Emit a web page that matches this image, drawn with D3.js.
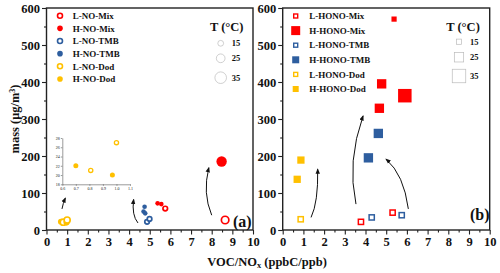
<!DOCTYPE html>
<html>
<head>
<meta charset="utf-8">
<script src="https://d3js.org/d3.v7.min.js"></script>
<style>
  body { margin: 0; background: #fff; }
  svg text { font-family: "Liberation Serif", "Times New Roman", serif; font-weight: bold; fill: #111; }
</style>
</head>
<body>
<svg id="chart" width="500" height="273"></svg>
<script>
// ---- data (VOC/NOx ratio, mass, temperature) ----
var noGroups = ["L-NO-Mix", "H-NO-Mix", "L-NO-TMB", "H-NO-TMB", "L-NO-Dod", "H-NO-Dod"];
var honoGroups = ["L-HONO-Mix", "H-HONO-Mix", "L-HONO-TMB", "H-HONO-TMB", "L-HONO-Dod", "H-HONO-Dod"];
var tempLevels = [15, 25, 35];
var xTicks = [0, 1, 2, 3, 4, 5, 6, 7, 8, 9, 10];
var yTicks = [0, 100, 200, 300, 400, 500, 600];
var insetXTicks = [0.6, 0.7, 0.8, 0.9, 1.0, 1.1];
var insetYTicks = [18, 20, 22, 24, 26, 28];

// panel (a)
var noGroup = ["L-NO-Mix", "L-NO-Mix", "H-NO-Mix", "H-NO-Mix", "H-NO-Mix",
               "L-NO-TMB", "L-NO-TMB", "H-NO-TMB", "H-NO-TMB", "H-NO-TMB",
               "H-NO-Dod", "L-NO-Dod", "H-NO-Dod", "L-NO-Dod"];
var noRatio = [8.65, 5.75, 8.48, 5.38, 5.56, 4.87, 4.99, 4.75, 4.70, 4.78, 0.70, 0.81, 0.97, 1.00];
var noMass  = [27, 58, 185, 72, 70, 22, 30, 63, 50, 45, 22, 21, 20, 27];
var noTemp  = [25, 15, 35, 15, 15, 15, 15, 15, 15, 15, 20, 20, 20, 20];

// panel (b)
var honoGroup = ["L-HONO-Mix", "L-HONO-Mix", "H-HONO-Mix", "H-HONO-Mix", "H-HONO-Mix", "H-HONO-Mix",
                 "L-HONO-TMB", "L-HONO-TMB", "H-HONO-TMB", "H-HONO-TMB",
                 "L-HONO-Dod", "H-HONO-Dod", "H-HONO-Dod"];
var honoRatio = [3.78, 5.31, 5.38, 4.78, 4.67, 5.90, 4.30, 5.75, 4.62, 4.14, 0.87, 0.88, 0.70];
var honoMass  = [22, 47, 570, 395, 329, 363, 34, 40, 261, 195, 29, 189, 137];
var honoTemp  = [15, 15, 15, 25, 25, 35, 15, 15, 25, 25, 15, 20, 20];

// curved arrows: start, bend, end (data units)
var arrowsA = [[0.75, 57, 0.80, 72, 0.91, 86], [4.43, 19, 4.12, 40, 4.22, 82], [8.0, 40, 7.55, 100, 7.86, 168]];
var arrowsB = [[1.37, 34, 1.72, 75, 1.69, 164], [3.54, 70, 3.1, 185, 3.88, 308], [6.07, 57, 5.85, 150, 5.0, 191]];

var colorOf = function(name) {
  if (name.indexOf("Mix") >= 0) return "#ff0000";
  if (name.indexOf("TMB") >= 0) return "#2e5e9f";
  return "#ffc000";
};
var isOpen = function(name) { return name.charAt(0) == "L"; };

var svg = d3.select("svg#chart");

var xA = d3.scaleLinear().domain([0, 10]).range([46.5, 253]);
var xB = d3.scaleLinear().domain([0, 10]).range([282.7, 489.7]);
var y = d3.scaleLinear().domain([0, 600]).range([230, 8]);
var rScale = d3.scaleLinear().domain([15, 35]).range([2.3, 5.2]);
var sScale = d3.scaleLinear().domain([15, 35]).range([5.2, 13.5]);

svg.append("defs").append("marker")
  .attr("id", "head")
  .attr("viewBox", "0 0 10 10")
  .attr("refX", 8).attr("refY", 5)
  .attr("markerWidth", 5.5).attr("markerHeight", 5.5)
  .attr("orient", "auto")
  .append("path").attr("d", "M0,1 L10,5 L0,9 Z").attr("fill", "#111");

function drawPanel(x) {
  var g = svg.append("g");
  // minor ticks
  g.append("g").attr("transform", "translate(0,230)")
    .call(d3.axisBottom(x).tickValues(d3.range(0.5, 10, 1)).tickSize(2.5).tickFormat(""))
    .call(function(s) { s.select(".domain").remove(); });
  g.append("g").attr("transform", "translate(" + x.range()[0] + ",0)")
    .call(d3.axisLeft(y).tickValues(d3.range(50, 600, 100)).tickSize(2.5).tickFormat(""))
    .call(function(s) { s.select(".domain").remove(); });
  var xa = g.append("g").attr("transform", "translate(0,230)")
    .call(d3.axisBottom(x).tickValues(xTicks).tickSize(4.5).tickSizeOuter(0).tickPadding(3));
  var ya = g.append("g").attr("transform", "translate(" + x.range()[0] + ",0)")
    .call(d3.axisLeft(y).tickValues(yTicks).tickSize(4.5).tickSizeOuter(0).tickPadding(2));
  [xa, ya].forEach(function(a) {
    a.selectAll("text").style("font-size", "12.5px").style("font-family", "Liberation Serif").style("font-weight", "bold");
  });
  g.selectAll(".tick line").attr("stroke", "#222").attr("stroke-width", 1.1);
  g.selectAll(".domain").remove();
  g.append("rect")
    .attr("x", x.range()[0]).attr("y", 8)
    .attr("width", x.range()[1] - x.range()[0]).attr("height", 222)
    .attr("fill", "none").attr("stroke", "#222").attr("stroke-width", 1.4);
}
drawPanel(xA);
drawPanel(xB);

function drawArrows(x, list) {
  svg.append("g").selectAll("path").data(list).enter().append("path")
    .attr("d", function(d) {
      return "M" + x(d[0]) + "," + y(d[1]) + " Q" + x(d[2]) + "," + y(d[3]) + " " + x(d[4]) + "," + y(d[5]);
    })
    .attr("fill", "none").attr("stroke", "#111").attr("stroke-width", 1)
    .attr("marker-end", "url(#head)");
}
drawArrows(xA, arrowsA);
drawArrows(xB, arrowsB);

// panel (a) points
var ptsA = noRatio.map(function(v, i) { return {x: v, y: noMass[i], t: noTemp[i], g: noGroup[i]}; });
svg.append("g").selectAll("circle").data(ptsA).enter().append("circle")
  .attr("cx", function(d) { return xA(d.x); })
  .attr("cy", function(d) { return y(d.y); })
  .attr("r", function(d) { return rScale(d.t); })
  .attr("fill", function(d) { return isOpen(d.g) ? "#fff" : colorOf(d.g); })
  .attr("stroke", function(d) { return colorOf(d.g); })
  .attr("stroke-width", function(d) { return isOpen(d.g) ? 1.7 : 0; });

// panel (b) points
var ptsB = honoRatio.map(function(v, i) { return {x: v, y: honoMass[i], t: honoTemp[i], g: honoGroup[i]}; });
svg.append("g").selectAll("rect").data(ptsB).enter().append("rect")
  .attr("x", function(d) { return xB(d.x) - sScale(d.t) / 2; })
  .attr("y", function(d) { return y(d.y) - sScale(d.t) / 2; })
  .attr("width", function(d) { return sScale(d.t); })
  .attr("height", function(d) { return sScale(d.t); })
  .attr("fill", function(d) { return isOpen(d.g) ? "#fff" : colorOf(d.g); })
  .attr("stroke", function(d) { return colorOf(d.g); })
  .attr("stroke-width", function(d) { return isOpen(d.g) ? 1.5 : 0; });

// inset for Dod points
var ix = d3.scaleLinear().domain([0.6, 1.1]).range([62.3, 130]);
var iy = d3.scaleLinear().domain([18, 28]).range([184.3, 138]);
var inset = svg.append("g");
var iax = inset.append("g").attr("transform", "translate(0,184.3)")
  .call(d3.axisBottom(ix).tickValues(insetXTicks).tickSize(1.5).tickSizeOuter(0).tickPadding(1).tickFormat(d3.format(".1f")));
var iay = inset.append("g").attr("transform", "translate(62.3,0)")
  .call(d3.axisLeft(iy).tickValues(insetYTicks).tickSize(1.5).tickSizeOuter(0).tickPadding(1));
[iax, iay].forEach(function(a) {
  a.selectAll("text").style("font-size", "4px").style("font-family", "Liberation Serif").style("font-weight", "normal");
  a.selectAll("line, path").attr("stroke", "#555").attr("stroke-width", 0.6);
});
var dod = ptsA.filter(function(d) { return d.g.indexOf("Dod") >= 0; });
inset.selectAll("circle").data(dod).enter().append("circle")
  .attr("cx", function(d) { return ix(d.x); })
  .attr("cy", function(d) { return iy(d.y); })
  .attr("r", function(d) { return isOpen(d.g) ? 2.1 : 2.5; })
  .attr("fill", function(d) { return isOpen(d.g) ? "#fff" : colorOf(d.g); })
  .attr("stroke", function(d) { return colorOf(d.g); })
  .attr("stroke-width", function(d) { return isOpen(d.g) ? 1.3 : 0; });

// legend (a)
var legA = svg.append("g").selectAll("g").data(noGroups).enter().append("g")
  .attr("transform", function(d, i) { return "translate(60," + (15.7 + i * 12.65) + ")"; });
legA.append("circle")
  .attr("r", function(d) { return isOpen(d) ? 2.5 : 2.8; })
  .attr("fill", function(d) { return isOpen(d) ? "#fff" : colorOf(d); })
  .attr("stroke", colorOf)
  .attr("stroke-width", function(d) { return isOpen(d) ? 1.6 : 0; });
legA.append("text").attr("x", 12.7).attr("y", 3.2).style("font-size", "9px").text(function(d) { return d; });

// legend (b)
var sqSize = {"H-HONO-Mix": 9, "H-HONO-TMB": 7, "H-HONO-Dod": 6};
var legB = svg.append("g").selectAll("g").data(honoGroups).enter().append("g")
  .attr("transform", function(d, i) { return "translate(295.7," + (16 + i * 14.6) + ")"; });
legB.append("rect")
  .attr("x", function(d) { return -(isOpen(d) ? 4 : sqSize[d]) / 2; })
  .attr("y", function(d) { return -(isOpen(d) ? 4 : sqSize[d]) / 2; })
  .attr("width", function(d) { return isOpen(d) ? 4 : sqSize[d]; })
  .attr("height", function(d) { return isOpen(d) ? 4 : sqSize[d]; })
  .attr("fill", function(d) { return isOpen(d) ? "#fff" : colorOf(d); })
  .attr("stroke", colorOf)
  .attr("stroke-width", function(d) { return isOpen(d) ? 1.4 : 0; });
legB.append("text").attr("x", 13.6).attr("y", 3.2).style("font-size", "9px").text(function(d) { return d; });

// temperature size legends
var tA = svg.append("g").attr("transform", "translate(220.7,0)");
tA.append("text").attr("x", 6).attr("y", 31).attr("text-anchor", "middle").style("font-size", "12.5px").text("T (°C)");
var tAy = [43.3, 58.3, 77.7];
tA.selectAll("circle").data(tempLevels).enter().append("circle")
  .attr("cy", function(d, i) { return tAy[i]; })
  .attr("r", function(d) { return rScale(d) + 0.6; })
  .attr("fill", "none").attr("stroke", "#bbb").attr("stroke-width", 0.7);
tA.selectAll("text.lv").data(tempLevels).enter().append("text").attr("class", "lv")
  .attr("x", 11).attr("y", function(d, i) { return tAy[i] + 3; })
  .style("font-size", "8.5px").text(function(d) { return d; });

var tB = svg.append("g").attr("transform", "translate(459,0)");
tB.append("text").attr("x", 4).attr("y", 31).attr("text-anchor", "middle").style("font-size", "12.5px").text("T (°C)");
var tBy = [41.7, 57.3, 76];
tB.selectAll("rect").data(tempLevels).enter().append("rect")
  .attr("x", function(d) { return -sScale(d) / 2; })
  .attr("y", function(d, i) { return tBy[i] - sScale(d) / 2; })
  .attr("width", sScale).attr("height", sScale)
  .attr("fill", "none").attr("stroke", "#bbb").attr("stroke-width", 0.7);
tB.selectAll("text.lv").data(tempLevels).enter().append("text").attr("class", "lv")
  .attr("x", 11).attr("y", function(d, i) { return tBy[i] + 3; })
  .style("font-size", "8.5px").text(function(d) { return d; });

// panel labels
svg.append("text").attr("x", 233).attr("y", 227).style("font-size", "16px").text("(a)");
svg.append("text").attr("x", 470).attr("y", 220).style("font-size", "16px").text("(b)");

// axis titles
var yl = svg.append("text").attr("transform", "translate(19,119) rotate(-90)")
  .attr("text-anchor", "middle").style("font-size", "12.5px");
yl.append("tspan").text("mass (μg/m");
yl.append("tspan").attr("dy", -4).style("font-size", "8px").text("3");
yl.append("tspan").attr("dy", 4).text(")");

var xl = svg.append("text").attr("x", 267).attr("y", 266).attr("text-anchor", "middle").style("font-size", "12.5px");
xl.append("tspan").text("VOC/NO");
xl.append("tspan").attr("dy", 2).style("font-size", "8.5px").text("x");
xl.append("tspan").attr("dy", -2).text(" (ppbC/ppb)");
</script>
</body>
</html>
